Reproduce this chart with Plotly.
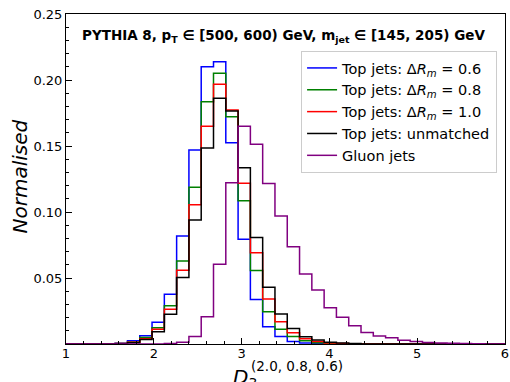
import plotly.graph_objects as go

# bin edges (width 0.14 starting at 1.0)
bin_edges = [1.00, 1.14, 1.28, 1.42, 1.56, 1.70, 1.84, 1.98, 2.12, 2.26, 2.40, 2.54,
             2.68, 2.82, 2.96, 3.10, 3.24, 3.38, 3.52, 3.66, 3.80, 3.94, 4.08, 4.22,
             4.36, 4.50, 4.64, 4.78, 4.92, 5.06, 5.20, 5.34, 5.48, 5.62, 5.76, 5.90, 6.04]

top_06 = [0, 0, 0, 0, 0.0005, 0.0025, 0.0063, 0.0164, 0.0376, 0.0818, 0.147, 0.2101,
          0.2139, 0.1525, 0.0793, 0.0338, 0.0131, 0.0056, 0.0018, 0.0008, 0.0003, 0,
          0, 0, 0, 0, 0, 0, 0, 0, 0, 0, 0, 0, 0, 0]
top_08 = [0, 0, 0, 0, 0.0003, 0.0015, 0.005, 0.0124, 0.029, 0.0629, 0.1187, 0.1836,
          0.2051, 0.1722, 0.1086, 0.0556, 0.0245, 0.0111, 0.0056, 0.0025, 0.001, 0.0005,
          0.0002, 0, 0, 0, 0, 0, 0, 0, 0, 0, 0, 0, 0, 0]
top_10 = [0, 0, 0, 0, 0.0003, 0.0013, 0.004, 0.0111, 0.0263, 0.0558, 0.1055, 0.1649,
          0.1967, 0.1773, 0.1217, 0.0692, 0.0341, 0.0169, 0.0086, 0.004, 0.0018, 0.0008,
          0.0003, 0, 0, 0, 0, 0, 0, 0, 0, 0, 0, 0, 0, 0]
top_unm = [0, 0, 0, 0, 0.0002, 0.001, 0.0035, 0.0093, 0.0225, 0.0503, 0.0939, 0.1485,
           0.1861, 0.1765, 0.1336, 0.0806, 0.0429, 0.0227, 0.0117, 0.0055, 0.003, 0.0014,
           0.0007, 0.0003, 0, 0, 0, 0, 0, 0, 0, 0, 0, 0, 0, 0]
gluon = [0, 0, 0, 0, 0, 0, 0, 0, 0.0003, 0.0013, 0.0056, 0.0207,
         0.0604, 0.1222, 0.1649, 0.1513, 0.1215, 0.097, 0.0737, 0.053, 0.0409, 0.0275,
         0.0202, 0.0139, 0.0088, 0.0061, 0.0048, 0.0028, 0.0018, 0.0012, 0.0008, 0.0005,
         0.0003, 0.0002, 0, 0]

series_names = ["Top jets: Δ<i>R</i><sub><i>m</i></sub> = 0.6",
                "Top jets: Δ<i>R</i><sub><i>m</i></sub> = 0.8",
                "Top jets: Δ<i>R</i><sub><i>m</i></sub> = 1.0",
                "Top jets: unmatched",
                "Gluon jets"]
series_vals = [top_06, top_08, top_10, top_unm, gluon]
series_colors = ["#0000ff", "#008000", "#ff0000", "#000000", "#800080"]

x_ticks = [1, 2, 3, 4, 5, 6]
y_ticks = [0.05, 0.10, 0.15, 0.20, 0.25]

fig = go.Figure()
for i, (name, vals, col) in enumerate(zip(series_names, series_vals, series_colors)):
    fig.add_trace(go.Scatter(
        x=bin_edges, y=list(vals) + [vals[-1]], mode="lines",
        line=dict(shape="hv", color=col, width=1.5), name=name,
        legendgroup="g%d" % i))

FONT = "DejaVu Sans"
L, R, T, B = 66, 1, 14, 38
W, H = 510, 382
pw, ph = W - L - R, H - T - B

def px(x):
    return (x - L) / pw

def py(y):
    return (H - B - y) / ph

fig.update_layout(
    width=W, height=H,
    margin=dict(l=L, r=R, t=T, b=B),
    paper_bgcolor="white", plot_bgcolor="white",
    font=dict(family=FONT, size=13, color="black"),
    showlegend=True,
    legend=dict(x=px(501), y=py(51), xanchor="right", yanchor="top",
                bgcolor="rgba(255,255,255,0.8)", bordercolor="#cccccc", borderwidth=1,
                font=dict(family=FONT, size=14.5, color="black"),
                tracegroupgap=0),
    xaxis=dict(range=[1, 6], tickvals=x_ticks, ticktext=[str(v) for v in x_ticks],
               ticks="inside", ticklen=6, tickcolor="black", showgrid=False,
               zeroline=False, showline=True, linecolor="black", linewidth=1, mirror=True,
               ticklabeloverflow="allow", ticklabelstandoff=-3,
               tickfont=dict(size=13, family=FONT, color="black"),
               minor=dict(dtick=0.2, tick0=1, ticks="inside", ticklen=3, tickcolor="black")),
    yaxis=dict(range=[0, 0.25], tickvals=y_ticks, ticktext=["%.2f" % v for v in y_ticks],
               ticks="inside", ticklen=6, tickcolor="black", showgrid=False,
               zeroline=False, showline=True, linecolor="black", linewidth=1, mirror=True,
               tickfont=dict(size=13, family=FONT, color="black"),
               minor=dict(dtick=0.01, tick0=0, ticks="inside", ticklen=3, tickcolor="black")),
)

annots = [
    dict(text="<b>PYTHIA 8, p<sub>T</sub> ∈ [500, 600) GeV, m<sub>jet</sub> ∈ [145, 205) GeV</b>",
         x=px(80), y=py(36), xanchor="left", yanchor="middle",
         font=dict(family=FONT, size=13.5, color="black")),
    dict(text="<i>Normalised</i>", x=px(20), y=py(176), xanchor="center", yanchor="middle",
         textangle=-90, font=dict(family=FONT, size=20, color="black")),
    dict(text="<i>D</i><sub>3</sub>", x=px(233), y=py(378), xanchor="left", yanchor="middle",
         font=dict(family=FONT, size=20, color="black")),
    dict(text="(2.0, 0.8, 0.6)", x=px(251), y=py(366), xanchor="left", yanchor="middle",
         font=dict(family=FONT, size=13.5, color="black")),
]
for a in annots:
    fig.add_annotation(xref="paper", yref="paper", showarrow=False, **a)

fig.write_html("out.html")
